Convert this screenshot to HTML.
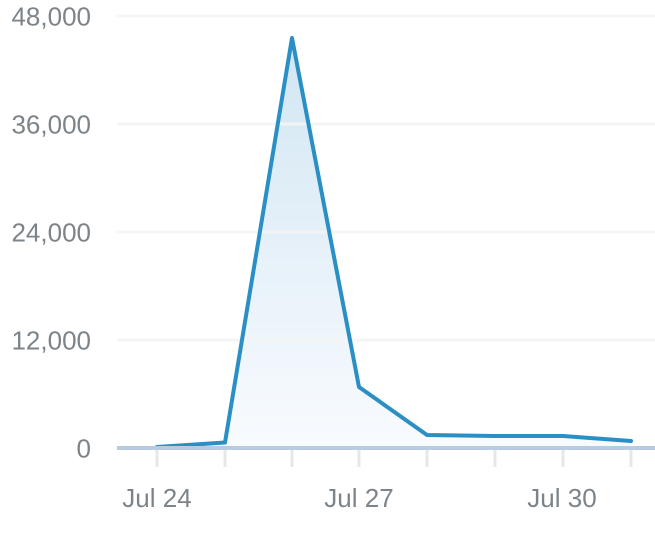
<!DOCTYPE html>
<html>
<head>
<meta charset="utf-8">
<style>
html,body{margin:0;padding:0;background:#fff;}
body{width:655px;height:544px;overflow:hidden;}
svg{display:block;}
text{font-family:"Liberation Sans",sans-serif;font-size:26px;fill:#7c8489;}
</style>
</head>
<body>
<svg width="655" height="544" viewBox="0 0 655 544" xmlns="http://www.w3.org/2000/svg">
<defs>
<linearGradient id="g" x1="0" y1="38" x2="0" y2="447" gradientUnits="userSpaceOnUse">
<stop offset="0" stop-color="#d2e6f3"/>
<stop offset="1" stop-color="#f8fbfe"/>
</linearGradient>
</defs>
<path d="M157,447 L225,442.5 L292,38 L359,387 L427,435 L495,436 L563,436 L631,441 L631,447 Z" fill="url(#g)"/>
<g stroke="#f3f5f6" stroke-width="3" opacity="0.9">
<line x1="117" y1="16" x2="655" y2="16"/>
<line x1="117" y1="124" x2="655" y2="124"/>
<line x1="117" y1="232" x2="655" y2="232"/>
<line x1="117" y1="340" x2="655" y2="340"/>
</g>
<g stroke="#e5e7e9" stroke-width="3">
<line x1="157" y1="450" x2="157" y2="467"/>
<line x1="225" y1="450" x2="225" y2="467"/>
<line x1="292" y1="450" x2="292" y2="467"/>
<line x1="359" y1="450" x2="359" y2="467"/>
<line x1="427" y1="450" x2="427" y2="467"/>
<line x1="495" y1="450" x2="495" y2="467"/>
<line x1="563" y1="450" x2="563" y2="467"/>
<line x1="631" y1="450" x2="631" y2="467"/>
</g>
<polyline points="157,447 225,442.5 292,38 359,387 427,435 495,436 563,436 631,441" fill="none" stroke="#2a8fc4" stroke-width="4" stroke-linejoin="round" stroke-linecap="round"/>
<line x1="117" y1="448" x2="655" y2="448" stroke="#b8cbe0" stroke-width="4"/>
<g text-anchor="end">
<text x="91" y="25.5">48,000</text>
<text x="91" y="133.5">36,000</text>
<text x="91" y="241.5">24,000</text>
<text x="91" y="349.5">12,000</text>
<text x="91" y="457.5">0</text>
</g>
<g text-anchor="middle">
<text x="157" y="507">Jul 24</text>
<text x="359" y="507">Jul 27</text>
<text x="562" y="507">Jul 30</text>
</g>
</svg>
</body>
</html>
